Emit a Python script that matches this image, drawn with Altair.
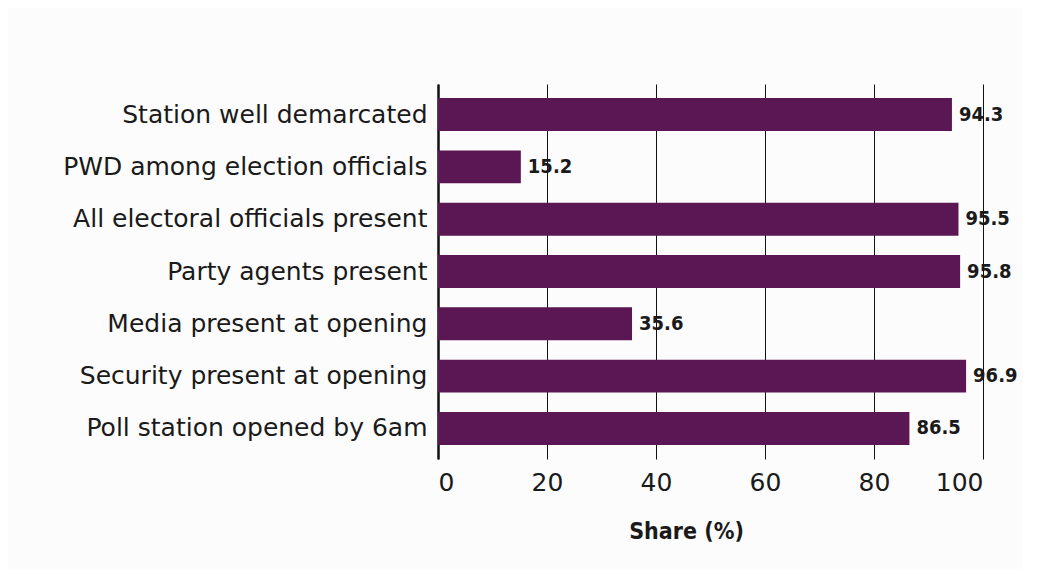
import altair as alt
import pandas as pd

categories = [
    "Station well demarcated",
    "PWD among election officials",
    "All electoral officials present",
    "Party agents present",
    "Media present at opening",
    "Security present at opening",
    "Poll station opened by 6am",
]
values = [94.3, 15.2, 95.5, 95.8, 35.6, 96.9, 86.5]
value_labels = ["94.3", "15.2", "95.5", "95.8", "35.6", "96.9", "86.5"]
x_ticks = [0, 20, 40, 60, 80, 100]

COND = "DejaVu Sans Condensed, Liberation Sans Narrow, Roboto, sans-serif"

df = pd.DataFrame({"cat": categories, "val": values, "lab": value_labels})

y = alt.Y(
    "cat:N",
    sort=categories,
    title=None,
    scale=alt.Scale(paddingInner=0.37, paddingOuter=0.27),
    axis=alt.Axis(
        domain=True, domainColor="#111111", domainWidth=2.5,
        ticks=False, tickSize=0, grid=False,
        labelPadding=11, labelFont="DejaVu Sans", labelFontSize=25,
        labelColor="#1a1a1a", labelLimit=600,
    ),
)
x = alt.X(
    "val:Q",
    scale=alt.Scale(domain=[0, 100], nice=False),
    title="Share (%)",
    axis=alt.Axis(
        values=x_ticks, domain=False, ticks=False, tickSize=0,
        grid=True, gridColor="#111111", gridWidth=1, gridOpacity=1,
        labelFont="DejaVu Sans", labelFontSize=25, labelColor="#1a1a1a",
        labelPadding=11,
        titleFont=COND, titleFontWeight="bold",
        titleFontSize=23, titleColor="#1a1a1a", titlePadding=25,
        titleX=248, titleAlign="center",
    ),
)

bars = alt.Chart(df).mark_bar(color="#5b1753").encode(x=x, y=y)
text = alt.Chart(df).mark_text(
    align="left", baseline="middle", dx=7,
    font=COND, fontWeight="bold", fontSize=20,
    color="#1a1a1a",
).encode(x="val:Q", y=alt.Y("cat:N", sort=categories), text="lab:N")

chart = (
    alt.layer(bars, text)
    .properties(
        width=545, height=375,
        autosize=alt.AutoSizeParams(type="none"),
        padding={"left": 430, "top": 76, "right": 40, "bottom": 110},
        background="#fcfcfc",
    )
    .configure_view(stroke=None)
)

chart.save("out.html", embed_options={"renderer": "svg", "actions": False})
